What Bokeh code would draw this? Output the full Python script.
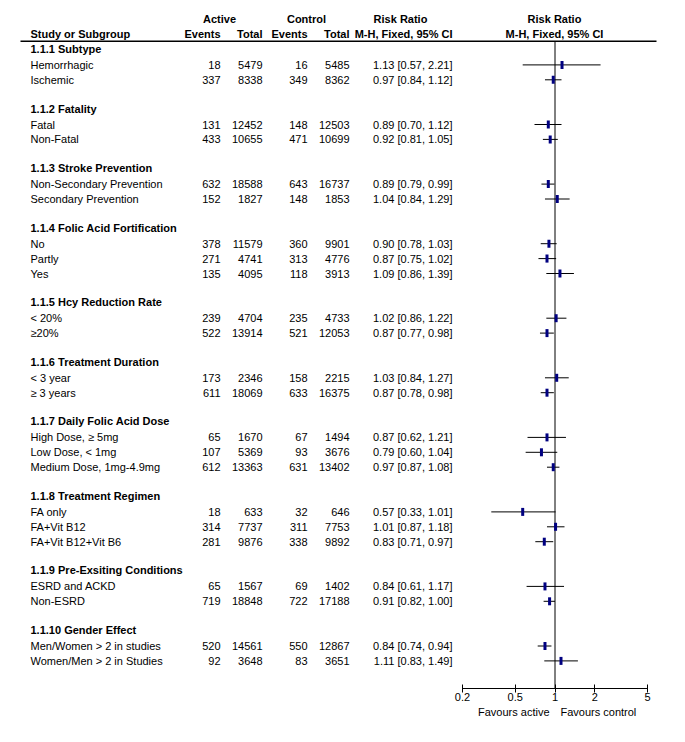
import math
from bokeh.plotting import figure
from bokeh.models import Range1d, LogScale, LogAxis, FixedTicker, ColumnDataSource
from bokeh.core.properties import value
from bokeh.embed import file_html
from bokeh.resources import INLINE

# ---------------- data ----------------
groups = ["1.1.1 Subtype", "1.1.2 Fatality", "1.1.3 Stroke Prevention",
          "1.1.4 Folic Acid Fortification", "1.1.5 Hcy Reduction Rate",
          "1.1.6 Treatment Duration", "1.1.7 Daily Folic Acid Dose",
          "1.1.8 Treatment Regimen", "1.1.9 Pre-Exsiting Conditions",
          "1.1.10 Gender Effect"]
group_sizes = [2, 2, 2, 3, 2, 2, 3, 3, 2, 2]
labels = ["Hemorrhagic", "Ischemic",
          "Fatal", "Non-Fatal",
          "Non-Secondary Prevention", "Secondary Prevention",
          "No", "Partly", "Yes",
          "< 20%", "≥20%",
          "< 3 year", "≥ 3 years",
          "High Dose, ≥ 5mg", "Low Dose, < 1mg", "Medium Dose, 1mg-4.9mg",
          "FA only", "FA+Vit B12", "FA+Vit B12+Vit B6",
          "ESRD and ACKD", "Non-ESRD",
          "Men/Women > 2 in studies", "Women/Men > 2 in Studies"]
act_events = [18, 337, 131, 433, 632, 152, 378, 271, 135, 239, 522, 173, 611,
              65, 107, 612, 18, 314, 281, 65, 719, 520, 92]
act_total = [5479, 8338, 12452, 10655, 18588, 1827, 11579, 4741, 4095, 4704, 13914,
             2346, 18069, 1670, 5369, 13363, 633, 7737, 9876, 1567, 18848, 14561, 3648]
ctl_events = [16, 349, 148, 471, 643, 148, 360, 313, 118, 235, 521, 158, 633,
              67, 93, 631, 32, 311, 338, 69, 722, 550, 83]
ctl_total = [5485, 8362, 12503, 10699, 16737, 1853, 9901, 4776, 3913, 4733, 12053,
             2215, 16375, 1494, 3676, 13402, 646, 7753, 9892, 1402, 17188, 12867, 3651]
rr = [1.13, 0.97, 0.89, 0.92, 0.89, 1.04, 0.90, 0.87, 1.09, 1.02, 0.87, 1.03, 0.87,
      0.87, 0.79, 0.97, 0.57, 1.01, 0.83, 0.84, 0.91, 0.84, 1.11]
ci_lo = [0.57, 0.84, 0.70, 0.81, 0.79, 0.84, 0.78, 0.75, 0.86, 0.86, 0.77, 0.84, 0.78,
         0.62, 0.60, 0.87, 0.33, 0.87, 0.71, 0.61, 0.82, 0.74, 0.83]
ci_hi = [2.21, 1.12, 1.12, 1.05, 0.99, 1.29, 1.03, 1.02, 1.39, 1.22, 0.98, 1.27, 0.98,
         1.21, 1.04, 1.08, 1.01, 1.18, 0.97, 1.17, 1.00, 0.94, 1.49]
ticks = [0.2, 0.5, 1, 2, 5]
tick_labels = ["0.2", "0.5", "1", "2", "5"]
favours = ["Favours active", "Favours control"]

# ---------------- row layout ----------------
header_rows = []
item_rows = []
idx = 0
for size in group_sizes:
    header_rows.append(idx - 0.07)
    item_rows.extend(range(idx + 1, idx + 1 + size))
    idx += size + 2

ci_txt = ["%.2f [%.2f, %.2f]" % (a, b, c) for a, b, c in zip(rr, ci_lo, ci_hi)]

W, H = 680, 735
ROW_PX = 14.9
ROW0 = 49.5           # px from top of canvas for row 0


def ry(px):
    """pixel row position -> row units"""
    return (px - ROW0) / ROW_PX


y_top = ry(0)
y_bot = ry(H)

FONT = "Liberation Sans"
FS = "11px"

p = figure(width=W, height=H, x_range=Range1d(0, W), y_range=Range1d(y_bot, y_top),
           output_backend="svg", toolbar_location=None,
           x_axis_type=None, y_axis_type=None,
           min_border_left=0, min_border_right=0, min_border_top=0,
           min_border_bottom=0)
p.outline_line_color = None
p.background_fill_color = "white"
p.border_fill_color = "white"

# log scale for forest plot: 0.2 -> 462px, 5 -> 647px
k = (647 - 462) / math.log(5 / 0.2)
rs = 0.2 * math.exp(-462 / k)
re = 5 * math.exp((W - 647) / k)
p.extra_x_ranges = {"rr": Range1d(rs, re)}
p.extra_x_scales = {"rr": LogScale()}


def txt(x, y, t, align="left", bold=False, **kw):
    p.text(x=x, y=y, text=t, text_font=value(FONT), text_font_size=FS,
           text_align=align, text_baseline="middle",
           text_font_style="bold" if bold else "normal", text_color="black", **kw)


# column headers
h1 = ry(18.5)
h2 = ry(33)
txt([219], [h1], ["Active"], "center", True)
txt([306], [h1], ["Control"], "center", True)
txt([400], [h1], ["Risk Ratio"], "center", True)
txt([554], [h1], ["Risk Ratio"], "center", True)
txt([30], [h2], ["Study or Subgroup"], "left", True)
txt([220, 307], [h2, h2], ["Events", "Events"], "right", True)
txt([262, 349], [h2, h2], ["Total", "Total"], "right", True)
txt([452], [h2], ["M-H, Fixed, 95% CI"], "right", True)
txt([554], [h2], ["M-H, Fixed, 95% CI"], "center", True)

line_y = ry(40.7)
p.segment(x0=[20], y0=[line_y], x1=[656], y1=[line_y], line_color="black", line_width=1.5)

# group headers
txt([30] * len(groups), header_rows, groups, "left", True)

# table body
src = ColumnDataSource(dict(
    y=item_rows, label=labels,
    ae=[str(v) for v in act_events], at=[str(v) for v in act_total],
    ce=[str(v) for v in ctl_events], ct=[str(v) for v in ctl_total],
    ci=ci_txt, rr=rr, lo=ci_lo, hi=ci_hi))

for x, col, al in [(30, "label", "left"), (220, "ae", "right"), (262, "at", "right"),
                   (307, "ce", "right"), (349, "ct", "right"), (452, "ci", "right")]:
    p.text(x=x, y="y", text=col, source=src, text_font=value(FONT), text_font_size=FS,
           text_align=al, text_baseline="middle", text_color="black")

# forest plot
axis_y = ry(688)
p.segment(x0=[1], x1=[1], y0=[line_y], y1=[axis_y], x_range_name="rr",
          line_color="black", line_width=1)
p.segment(x0="lo", x1="hi", y0="y", y1="y", source=src, x_range_name="rr",
          line_color="black", line_width=1)
p.rect(x="rr", y="y", width=3, height=8, width_units="screen", height_units="screen",
       source=src, x_range_name="rr", fill_color="#000080", line_color=None)

ax = LogAxis(x_range_name="rr", ticker=FixedTicker(ticks=ticks), bounds=(0.2, 5),
             fixed_location=axis_y)
ax.major_label_overrides = {t: l for t, l in zip(ticks, tick_labels)}
ax.major_tick_in = 4
ax.major_tick_out = 4
ax.minor_tick_in = 0
ax.minor_tick_out = 0
ax.major_label_standoff = 0
ax.axis_line_color = "black"
ax.major_tick_line_color = "black"
ax.major_label_text_font = FONT
ax.major_label_text_font_size = FS
ax.major_label_text_color = "black"
p.add_layout(ax, "below")

fy = ry(711)
txt([549], [fy], [favours[0]], "right")
txt([560], [fy], [favours[1]], "left")

open("out.html", "w").write(file_html(p, INLINE))
